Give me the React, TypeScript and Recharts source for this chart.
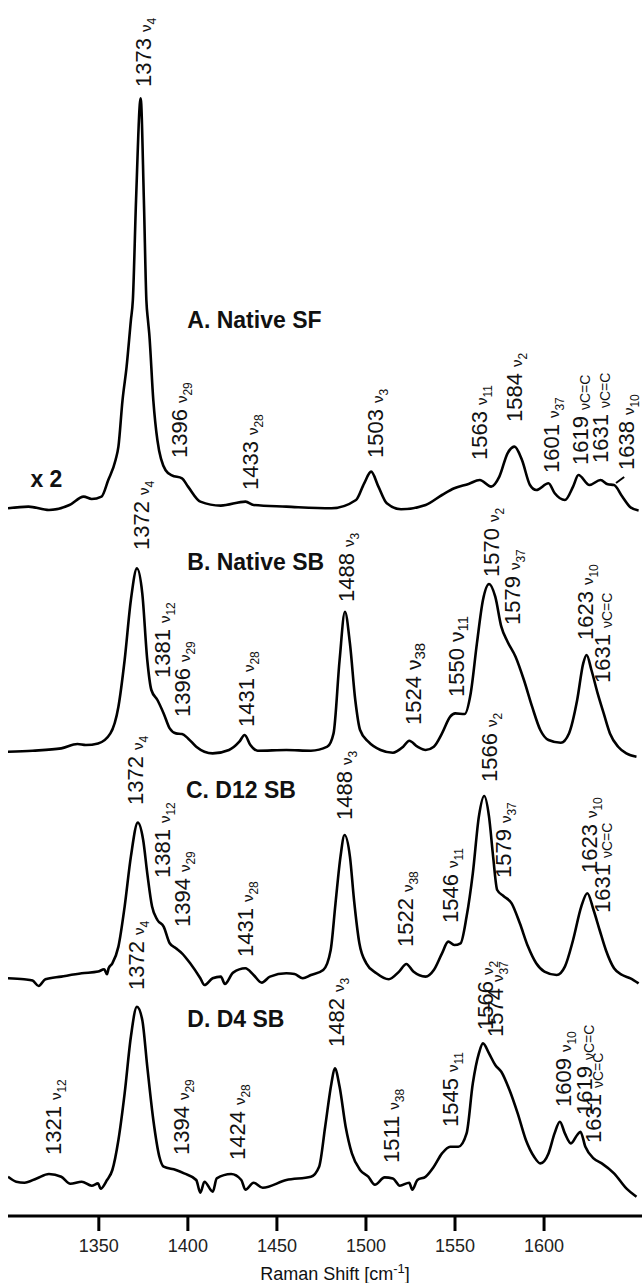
import { LineChart, Line, XAxis, YAxis, ReferenceDot, ReferenceLine } from "recharts";

// Raman shift (cm-1) vs. intensity above each trace's own baseline
type Pt = [number, number];

const shiftTicks = [1350, 1400, 1450, 1500, 1550, 1600];

const nativeSF: Pt[] = [
  [1299, 0], [1310.5, 1.7], [1322, -1.7], [1333.5, 3.3], [1341.5, 11.7], [1346, 9.3], [1351.5, 11.7],
  [1355.3, 28.3], [1359.4, 48.3], [1361, 61.7], [1363.3, 108], [1365.6, 141.7], [1368, 188], [1369.1, 208],
  [1370.9, 308], [1373.5, 410], [1375.3, 308], [1376.7, 208], [1377.6, 188], [1378.3, 175], [1380.6, 108],
  [1382.9, 68], [1387.5, 38], [1391, 33], [1396.7, 30], [1400.1, 21.7], [1407, 6.7], [1418.5, 2.7],
  [1432.4, 6.7], [1436.9, 3.3], [1455.3, 1.7], [1480.6, 0], [1494.4, 8.3], [1499, 25], [1502.9, 36.7],
  [1507, 21.7], [1511.7, 5], [1519.7, -1], [1533.5, 3.3], [1542.7, 13.3], [1549.6, 20], [1557.6, 24.3],
  [1563.9, 28.3], [1570.3, 21.7], [1574.9, 31.7], [1579.5, 55], [1583.4, 61.7], [1587.6, 48.3],
  [1592.1, 23.3], [1595.6, 18.3], [1602.5, 25], [1606, 15], [1611.7, 8.3], [1616.3, 21.7], [1619.3, 33.3],
  [1625.5, 23.3], [1631.7, 28.3], [1635.8, 24], [1639.3, 23.3], [1643.9, 11.7], [1648.5, 1], [1653.1, -2.3],
];

const nativeSB: Pt[] = [
  [1299, 0], [1312.8, 1], [1328.9, 3.3], [1338, 7.7], [1342.7, 6.7], [1349.6, 8.3], [1356.5, 18.3],
  [1361, 45], [1364.5, 91.7], [1368, 151.7], [1371.4, 183.3], [1374.4, 158.3], [1377.2, 91.7],
  [1379.5, 61.7], [1382.9, 51.7], [1386.4, 38.3], [1389.8, 23.3], [1393.3, 18.3], [1396.7, 17.7],
  [1400.1, 13.3], [1404.7, 5], [1409.3, 0], [1413.9, -1.7], [1423.1, 1.7], [1428.9, 10], [1431.9, 16.7],
  [1435.1, 6.7], [1439.2, 1], [1455.3, 1.7], [1469.1, 1], [1478.3, 5], [1481.8, 18.3], [1485.2, 91.7],
  [1488.2, 140], [1491, 108.3], [1494, 51.7], [1496.7, 21.7], [1501.3, 10], [1508.2, 1.7], [1515.1, -1],
  [1520.9, 5], [1524.3, 11], [1528.9, 5], [1533.5, 1.7], [1538.1, 5], [1542.7, 18.3], [1547.3, 35],
  [1550.1, 38.3], [1555.4, 37.7], [1558.8, 58.3], [1562.3, 108.3], [1565.7, 151.7], [1569.1, 167.7],
  [1572.6, 155], [1576, 125], [1579.5, 110], [1584, 95], [1588.7, 71.7], [1593.3, 45], [1597.9, 21.7],
  [1602.5, 11.7], [1609.4, 9], [1614, 18.3], [1618.6, 51.7], [1622, 88.3], [1623.9, 96.7], [1626.6, 81.7],
  [1630.1, 58.3], [1633.5, 38.3], [1637, 18.3], [1641.6, 5], [1646.2, -1.7], [1651.9, -5],
];

const d12SB: Pt[] = [
  [1299, 0], [1308, -1], [1312.8, -2.3], [1316.2, -7.7], [1320, -1], [1328.9, 1.7], [1340.4, 5],
  [1349.6, 6.7], [1353, 9], [1354.6, 4], [1355.5, 10], [1357.6, 15], [1361, 31.7], [1364.5, 71.7],
  [1368, 121.7], [1371.9, 155.7], [1374.9, 138.3], [1377.2, 105], [1379.9, 71.7], [1382.9, 58.3],
  [1386.4, 51.7], [1389.8, 35], [1393.3, 30], [1396.7, 25], [1401.3, 15], [1407, 0], [1409.3, -6.7],
  [1413.9, 0], [1418.5, 1.7], [1420.8, -5.7], [1425.4, 5.7], [1432.3, 10], [1436.9, 3.3], [1441.5, -4.3],
  [1446.1, 1.7], [1455.3, 5], [1459.9, 4.3], [1464.5, 0], [1469.1, 3.3], [1476, 8.3], [1480.2, 28.3],
  [1482.9, 75], [1485.7, 121.7], [1488, 143.3], [1491, 121.7], [1493.3, 78.3], [1496.3, 35], [1500.2, 15],
  [1505.9, 5], [1512.8, -1], [1518.6, 6.7], [1522.7, 14.3], [1526.6, 6.7], [1533.5, 1.7], [1538.1, 8.3],
  [1542.7, 25], [1546.2, 36.7], [1549.6, 33.3], [1553.1, 35], [1556.5, 61.7], [1560, 105], [1563.4, 161.7],
  [1566.4, 182.3], [1569.1, 161.7], [1571.4, 121.7], [1573.7, 88.3], [1577.2, 82.3], [1581.8, 75],
  [1586.4, 55], [1591, 31.7], [1595.6, 15], [1600.2, 6.7], [1607.1, 3.3], [1611.7, 11.7], [1616.3, 38.3],
  [1620.9, 71.7], [1624.3, 85], [1627.8, 68.3], [1631.2, 48.3], [1634.7, 28.3], [1639.3, 10],
  [1643.9, 3.3], [1648.5, 0], [1653.1, -5],
];

const d4SB: Pt[] = [
  [1299, 5], [1303.6, 0], [1308.2, -1], [1315.1, 3.3], [1322, 7.7], [1328.9, 5], [1334, -2], [1340.4, 0],
  [1346, -4], [1349.6, -1.7], [1351, -7], [1354.6, 1.7], [1357.6, 11.7], [1361, 41.7], [1364.5, 88.3],
  [1368, 145], [1371.4, 175], [1374.4, 161.7], [1377.2, 115], [1380.6, 61.7], [1384, 25], [1386.4, 15],
  [1393.3, 11.7], [1397.9, 8.3], [1404.7, 1.7], [1407, -11], [1409.3, 0], [1414, -10], [1416.2, 3.3],
  [1424.3, 7.7], [1430, 1.7], [1432.3, -8], [1436.9, -1], [1442, -6], [1455.3, 1.7], [1469.1, 5],
  [1473.7, 15], [1477.1, 55], [1480.6, 98.3], [1482.5, 113.3], [1485.2, 95], [1488.6, 55], [1492.1, 28.3],
  [1496.7, 11.7], [1501.3, 5], [1505, -3], [1510.5, 4.3], [1515.1, 3.3], [1519, -4], [1524.3, -1],
  [1526, -8], [1528.9, 1.7], [1533.5, 5], [1538.1, 15], [1542.7, 28.3], [1547.3, 35], [1551.9, 35],
  [1556.5, 48.3], [1560, 98.3], [1563.4, 128.3], [1565.7, 138.3], [1569.1, 128.3], [1572.6, 116.7],
  [1576, 110], [1580.6, 91.7], [1585.2, 68.3], [1589.8, 41.7], [1594.4, 25], [1597.9, 18.3], [1602.5, 28.3],
  [1605.9, 48.3], [1608.9, 60], [1611.7, 48.3], [1615.1, 38.3], [1618.6, 46.7], [1620.4, 50], [1623.2, 35],
  [1627.8, 23.3], [1632.4, 18.3], [1639.3, 8.3], [1646.2, -6.7], [1651.9, -15],
];

// peak tags: [shift, height on the plot, wavenumber text, mode subscript, large nu?]
type Tag = [number, number, string, string, boolean?];

const nativeSFTags: Tag[] = [
  [1375, 1129, "1373", "4"], [1395, 758, "1396", "29"], [1434.7, 726, "1433", "28"],
  [1504.8, 758, "1503", "3"], [1563.5, 756, "1563", "11"], [1583, 794, "1584", "2"],
  [1603.7, 743, "1601", "37"], [1620.4, 751, "1619", "C=C"], [1631.3, 753, "1631", "C=C"],
  [1646.2, 746, "1638", "10"],
];
const nativeSBTags: Tag[] = [
  [1373.6, 666, "1372", "4"], [1488.8, 614, "1488", "3"], [1570.2, 639, "1570", "2"],
  [1581.8, 591, "1579", "37"], [1385.2, 538, "1381", "12"], [1396.6, 499, "1396", "29"],
  [1432.4, 489, "1431", "28"], [1526.6, 491, "1524", "38", true], [1550.8, 519, "1550", "11", true],
  [1623, 576, "1623", "10"], [1632.3, 533, "1631", "C=C"],
];
const d12SBTags: Tag[] = [
  [1370.2, 411, "1372", "4"], [1487.6, 396, "1488", "3"], [1569, 434, "1566", "2"],
  [1577.2, 338, "1579", "37"], [1385.2, 338, "1381", "12"], [1396.6, 289, "1394", "29"],
  [1431.9, 259, "1431", "28"], [1521.9, 269, "1522", "38"], [1547.2, 293, "1546", "11"],
  [1625.5, 343, "1623", "10"], [1632.4, 303, "1631", "C=C"],
];
const d4SBTags: Tag[] = [
  [1371, 226, "1372", "4"], [1482.9, 169, "1482", "3"], [1566.9, 186, "1566", "2"],
  [1572.6, 179, "1574", "37"], [1324.3, 61, "1321", "12"], [1396.2, 61, "1394", "29"],
  [1427.8, 56, "1424", "28"], [1514, 53, "1511", "38"], [1547.4, 89, "1545", "11"],
  [1610.8, 109, "1609", "10"], [1622.5, 101, "1619", "C=C"], [1627.7, 73, "1631", "C=C"],
];

// panel titles: [shift at left edge, baseline height, text]
const titles: [number, number, string][] = [
  [1311.6, 729, "x 2"],
  [1399.7, 888, "A. Native SF"],
  [1399.7, 646, "B. Native SB"],
  [1398.9, 418, "C. D12 SB"],
  [1399.7, 189, "D. D4 SB"],
];

const FONT = "'Liberation Sans', Arial, sans-serif";
const PLOT_TOP = 1216;

const traces = [
  { name: "nativeSF", pts: nativeSF, base: 707.7 },
  { name: "nativeSB", pts: nativeSB, base: 464.3 },
  { name: "d12SB", pts: d12SB, base: 237.7 },
  { name: "d4SB", pts: d4SB, base: 34.3 },
];

const allTags = [...nativeSFTags, ...nativeSBTags, ...d12SBTags, ...d4SBTags];

function PeakLabel({ cx, cy, num, sub, big }: any) {
  const bx = cx + 8;
  let tail;
  if (sub === "C=C") {
    tail = <tspan fontSize={14} dx={6} dy={2}>νC=C</tspan>;
  } else if (big) {
    tail = (
      <>
        <tspan fontSize={21} dx={6}>ν</tspan>
        <tspan fontSize={15} dy={4}>{sub}</tspan>
      </>
    );
  } else {
    tail = (
      <>
        <tspan fontSize={15} dx={6}>ν</tspan>
        <tspan fontSize={12} dy={5}>{sub}</tspan>
      </>
    );
  }
  return (
    <text x={bx} y={cy} transform={`rotate(-90 ${bx} ${cy})`} fontFamily={FONT} fontSize={22} fill="#111">
      {num}
      {tail}
    </text>
  );
}

function AxisTitle({ viewBox }: any) {
  const x = viewBox.x + viewBox.width / 2 + 10;
  const y = viewBox.y + 64;
  return (
    <text x={x} y={y} textAnchor="middle" fontFamily={FONT} fontSize={18} fill="#111">
      Raman Shift [cm<tspan dy={-7} fontSize={13}>-1</tspan><tspan dy={7}>]</tspan>
    </text>
  );
}

export default function App() {
  return (
    <div style={{ position: "absolute", left: 0, top: 0, width: 642, height: 1283, background: "#fff" }}>
      <LineChart width={642} height={1283} margin={{ top: 0, right: 0, bottom: 0, left: 8 }}>
        <XAxis
          type="number"
          dataKey="x"
          domain={[1299, 1655]}
          allowDataOverflow
          ticks={shiftTicks}
          height={67}
          tickSize={15}
          tickMargin={8}
          axisLine={{ stroke: "#000", strokeWidth: 3 }}
          tickLine={{ stroke: "#000", strokeWidth: 3 }}
          tick={{ fontFamily: FONT, fontSize: 18, fill: "#222" }}
          label={(p: any) => <AxisTitle viewBox={p.viewBox} />}
        />
        <YAxis hide type="number" domain={[0, PLOT_TOP]} allowDataOverflow />
        {traces.map((t) => (
          <Line
            key={t.name}
            data={t.pts.map(([x, v]) => ({ x, y: v + t.base }))}
            dataKey="y"
            type="monotone"
            stroke="#000"
            strokeWidth={2.6}
            dot={false}
            isAnimationActive={false}
          />
        ))}
        <ReferenceLine
          segment={[{ x: 1640.4, y: 733 }, { x: 1645, y: 739 }]}
          stroke="#000"
          strokeWidth={2}
        />
        {allTags.map(([x, y, num, sub, big], i) => (
          <ReferenceDot
            key={"tag" + i}
            x={x}
            y={y}
            r={0}
            shape={(p: any) => <PeakLabel cx={p.cx} cy={p.cy} num={num} sub={sub} big={big} />}
          />
        ))}
        {titles.map(([x, y, txt]) => (
          <ReferenceDot
            key={txt}
            x={x}
            y={y}
            r={0}
            shape={(p: any) => (
              <text x={p.cx} y={p.cy} fontFamily={FONT} fontSize={23} fontWeight="bold" fill="#111">
                {txt}
              </text>
            )}
          />
        ))}
      </LineChart>
    </div>
  );
}
